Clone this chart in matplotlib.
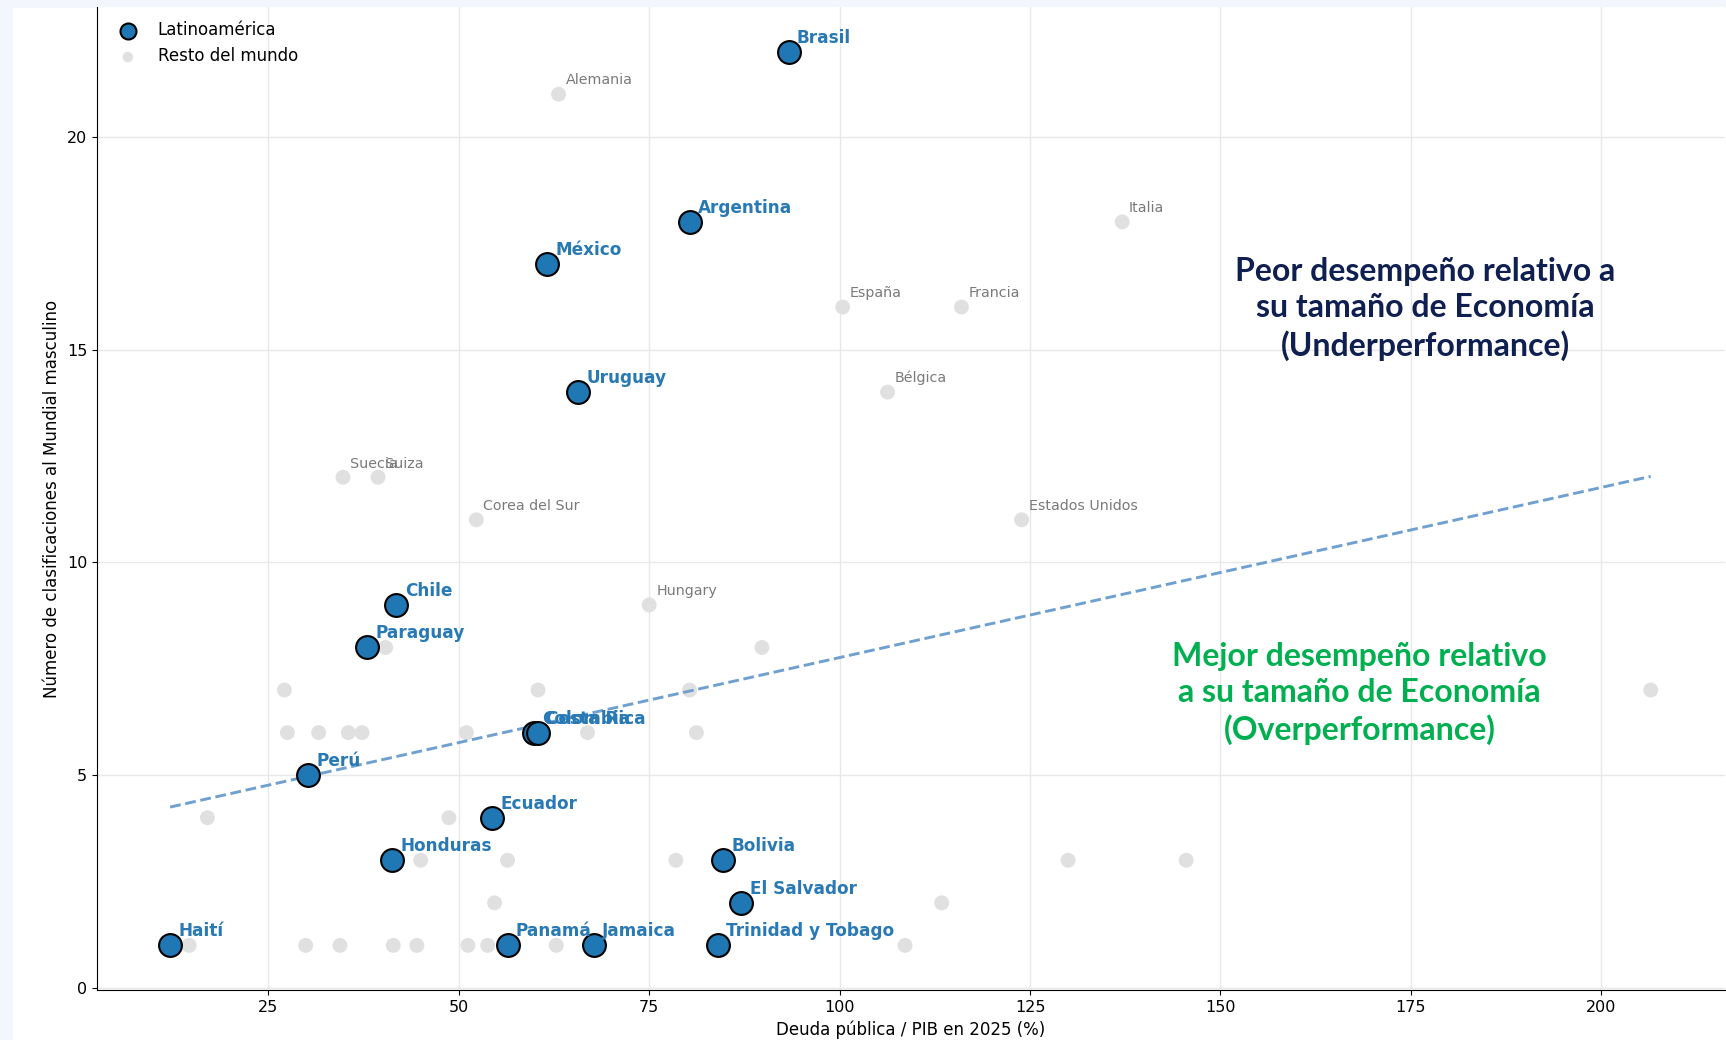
import numpy as np
import matplotlib
matplotlib.use("Agg")
import matplotlib.pyplot as plt
from matplotlib.patches import Rectangle

# Latinoamérica
latam_names = ["Brasil", "Argentina", "México", "Uruguay", "Chile", "Paraguay",
               "Colombia", "Costa Rica", "Perú", "Ecuador", "Honduras", "Bolivia",
               "El Salvador", "Haití", "Panamá", "Jamaica", "Trinidad y Tobago"]
latam_deuda = [93.3, 80.3, 61.6, 65.7, 41.8, 38.0,
               59.85, 60.35, 30.2, 54.4, 41.2, 84.7,
               87.1, 12.1, 56.4, 67.7, 84.0]
latam_clasif = [22, 18, 17, 14, 9, 8,
                6, 6, 5, 4, 3, 3,
                2, 1, 1, 1, 1]

# Resto del mundo con etiqueta
rest_names = ["Alemania", "Italia", "España", "Francia", "Bélgica", "Suecia",
              "Suiza", "Corea del Sur", "Estados Unidos", "Hungary"]
rest_deuda = [63.1, 137.1, 100.4, 116.0, 106.3, 34.8, 39.4, 52.3, 123.9, 75.0]
rest_clasif = [21, 18, 16, 16, 14, 12, 12, 11, 11, 9]

# Resto del mundo sin etiqueta
other_deuda = [89.8, 40.4,
               27.1, 60.4, 80.3, 206.5,
               27.5, 31.6, 35.5, 37.3, 51.0, 66.9, 81.2,
               17.0, 48.7,
               45.0, 56.4, 78.5, 130.0, 145.5,
               54.7, 113.4,
               14.6, 29.9, 34.4, 41.4, 44.5, 51.2, 53.8, 62.8, 108.6]
other_clasif = [8, 8,
                7, 7, 7, 7,
                6, 6, 6, 6, 6, 6, 6,
                4, 4,
                3, 3, 3, 3, 3,
                2, 2,
                1, 1, 1, 1, 1, 1, 1, 1, 1]

# tendencia (extremos)
trend_x = [12.1, 206.5]
trend_y = [4.25, 12.02]

blue = "#1f77b4"
label_blue = "#2979b5"

fig = plt.figure(figsize=(17.26, 10.4), dpi=100)
fig.patch.set_facecolor("#f3f6fc")
fig.add_artist(Rectangle((13 / 1726, 0), 1, 1032 / 1040, transform=fig.transFigure,
                         facecolor="white", edgecolor="none", zorder=-1))
ax = fig.add_axes([97 / 1726, 0.048, 0.943, 0.9453])

gx = rest_deuda + other_deuda
gy = rest_clasif + other_clasif
ax.scatter(gx, gy, s=115, color="#e0e0e0", edgecolors="none", zorder=2,
           label="Resto del mundo")
ax.scatter(latam_deuda, latam_clasif, s=270, color=blue, edgecolors="black",
           linewidths=1.5, zorder=4, label="Latinoamérica")

ax.plot(trend_x, trend_y, "--", color="#6fa0d0", lw=2.1, zorder=3)

for n, x, y in zip(rest_names, rest_deuda, rest_clasif):
    ax.annotate(n, (x, y), xytext=(5, 7), textcoords="offset points",
                fontsize=10.3, color="#7a7a7a", zorder=5)

for n, x, y in zip(latam_names, latam_deuda, latam_clasif):
    ax.annotate(n, (x, y), xytext=(6, 6.5), textcoords="offset points",
                fontsize=12.2, fontweight="bold", color=label_blue, zorder=6)

ax.text(176.9, 15.96, "Peor desempeño relativo a\nsu tamaño de Economía\n(Underperformance)",
        ha="center", va="center", fontsize=23, fontweight="bold", family="Lato",
        color="#0f1f4f", linespacing=1.3, zorder=7)
ax.text(168.3, 6.92, "Mejor desempeño relativo\na su tamaño de Economía\n(Overperformance)",
        ha="center", va="center", fontsize=23, fontweight="bold", family="Lato",
        color="#00b050", linespacing=1.3, zorder=7)

ax.set_xlim(2.5, 216.2)
ax.set_ylim(-0.05, 23.05)
ax.set_xticks([25, 50, 75, 100, 125, 150, 175, 200])
ax.set_yticks([0, 5, 10, 15, 20])
ax.tick_params(labelsize=11.5)
ax.grid(True, color="#e8e8e8", lw=1)
ax.set_axisbelow(True)
ax.spines["top"].set_visible(False)
ax.spines["right"].set_visible(False)

ax.set_xlabel("Deuda pública / PIB en 2025 (%)", fontsize=12)
ax.set_ylabel("Número de clasificaciones al Mundial masculino", fontsize=12)

h, l = ax.get_legend_handles_labels()
ax.legend(h[::-1], l[::-1], loc="upper left", frameon=False, fontsize=12,
          markerscale=0.7, borderaxespad=0.45)

fig.savefig("out.png", dpi=100, facecolor=fig.get_facecolor())
